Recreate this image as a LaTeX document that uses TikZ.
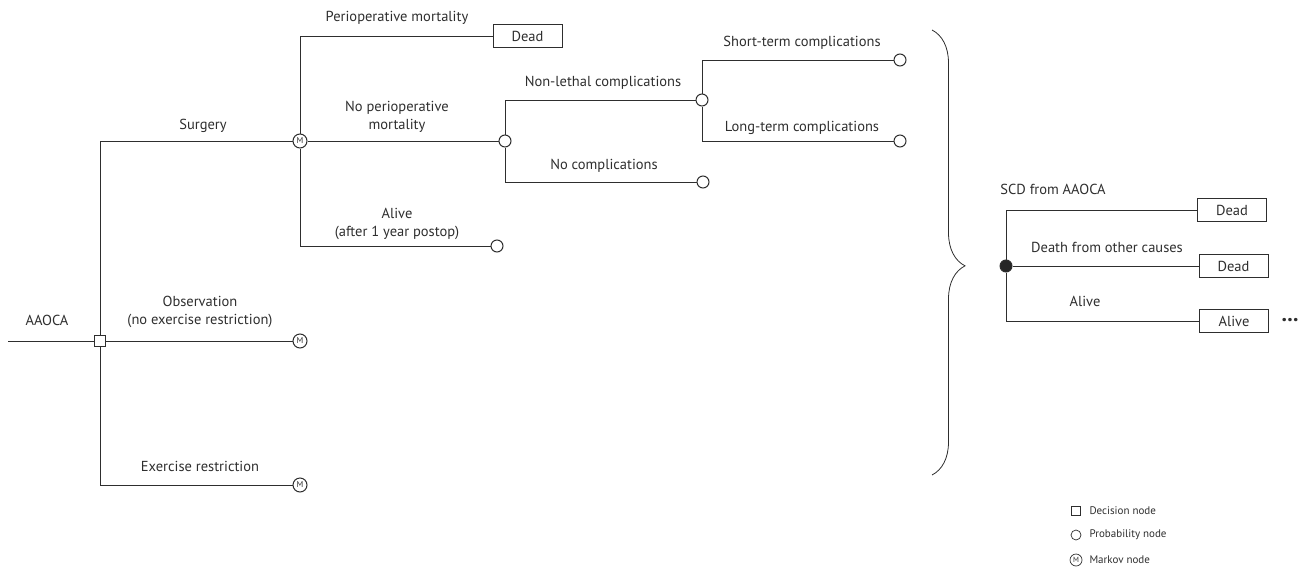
\documentclass[tikz,border=0pt]{standalone}
\usepackage{fontspec}
\setmainfont{PT Sans}
\usetikzlibrary{decorations.pathreplacing}

\begin{document}
\begin{tikzpicture}[
  x=1pt, y=-1pt,
  font=\fontsize{14.5}{17.5}\selectfont,
  color=black!82,
  line width=1pt,
  decision/.style={draw, fill=white, minimum size=11pt, inner sep=0pt},
  chance/.style={draw, circle, fill=white, minimum size=12pt, inner sep=0pt},
  markov/.style={draw, circle, fill=white, minimum size=14pt, inner sep=0pt,
                 font=\fontsize{8.5}{9}\selectfont},
  joint/.style={draw, circle, fill=black!85, minimum size=12pt, inner sep=0pt},
  absorb/.style={draw, fill=white, minimum width=69pt, minimum height=23pt,
                 inner sep=0pt},
  lbl/.style={align=center, anchor=south, inner sep=1pt, text depth=3.5pt},
  legtxt/.style={anchor=west, inner sep=0pt, font=\fontsize{11}{12}\selectfont},
  curly/.style={decorate, decoration={brace, amplitude=33pt, aspect=0.53},
                line width=0.8pt}
]
\useasboundingbox (0,0) rectangle (1311,573);

% tree nodes
\coordinate (root) at (8,341);
\node[decision] (dec) at (100,341) {};
\node[markov] (surg) at (300,141) {M};
\node[markov] (obs) at (300,341) {M};
\node[markov] (exr) at (300,485) {M};
\node[absorb] (dead1) at (527.5,36) {Dead};
\node[chance] (nomort) at (505,141) {};
\node[chance] (alive1) at (497,246) {};
\node[chance] (nonleth) at (702,100) {};
\node[chance] (nocompl) at (703,182) {};
\node[chance] (short) at (900,60) {};
\node[chance] (long) at (900,141) {};

% markov cycle
\node[joint] (cycle) at (1006,266) {};
\node[absorb] (dead2) at (1232,210) {Dead};
\node[absorb] (dead3) at (1233.5,266) {Dead};
\node[absorb] (alive2) at (1234,321) {Alive};
\node[inner sep=0pt, font=\bfseries\fontsize{22}{22}\selectfont] (more) at (1290,320) {...};

% branches
\draw (root) -- (dec);
\draw (dec) |- (surg);
\draw (dec) -- (obs);
\draw (dec) |- (exr);
\draw (surg) |- (dead1);
\draw (surg) -- (nomort);
\draw (surg) |- (alive1);
\draw (nomort) |- (nonleth);
\draw (nomort) |- (nocompl);
\draw (nonleth) |- (short);
\draw (nonleth) |- (long);
\draw (cycle) |- (dead2);
\draw (cycle) -- (dead3);
\draw (cycle) |- (alive2);
\draw[curly] (932,30) -- (932,475);

% labels
\node[lbl] at (47,330) {AAOCA};
\node[lbl] at (203,134) {Surgery};
\node[lbl] at (200,329) {Observation\\(no exercise restriction)};
\node[lbl] at (200,476) {Exercise restriction};
\node[lbl] at (397,26) {Perioperative mortality};
\node[lbl] at (397,134) {No perioperative\\mortality};
\node[lbl] at (397,241) {Alive\\(after 1 year postop)};
\node[lbl] at (603,91) {Non-lethal complications};
\node[lbl] at (604,174) {No complications};
\node[lbl] at (802,51) {Short-term complications};
\node[lbl] at (802,136) {Long-term complications};
\node[lbl] at (1053,199) {SCD from AAOCA};
\node[lbl] at (1107,257) {Death from other causes};
\node[lbl] at (1085,311) {Alive};

% legend
\node[decision, minimum size=9pt, line width=0.7pt] (legdec) at (1076,511) {};
\node[chance, minimum size=10pt, line width=0.7pt] (legch) at (1076,535) {};
\node[markov, minimum size=12pt, line width=0.7pt, font=\fontsize{7.5}{8}\selectfont] (legmk) at (1076,560) {M};
\node[legtxt] at (1089,511) {Decision node};
\node[legtxt] at (1089,535) {Probability node};
\node[legtxt] at (1089,560) {Markov node};
\end{tikzpicture}
\end{document}
